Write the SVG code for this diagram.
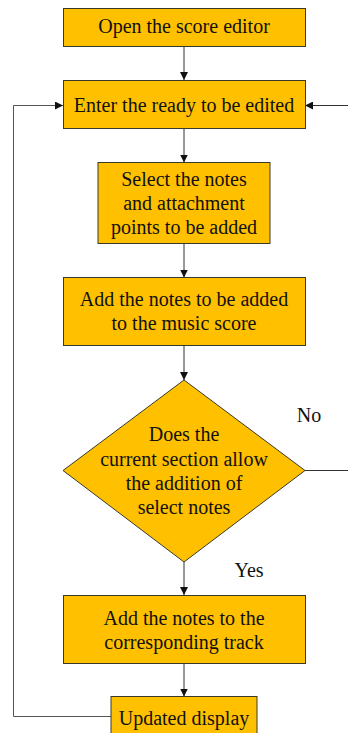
<svg xmlns="http://www.w3.org/2000/svg" width="348" height="733" viewBox="0 0 348 733">
  <style>
    .box { fill: #FFC000; stroke: #3a3a2a; stroke-width: 1; }
    .lbl { font-family: "Liberation Serif", "Times New Roman", serif; font-size: 20px; fill: #111; text-anchor: middle; }
    .edge { fill: none; stroke: #333; stroke-width: 1; }
    .loop { fill: none; stroke: #555; stroke-width: 1; }
  </style>
  <defs>
    <marker id="arrow" viewBox="0 0 10 10" refX="10" refY="5" markerWidth="8" markerHeight="8" markerUnits="userSpaceOnUse" orient="auto">
      <path d="M0,0 L10,5 L0,10 z" fill="#111"/>
    </marker>
  </defs>
  <rect width="348" height="733" fill="#fff"/>

  <g id="connectors">
    <line class="edge" x1="184" y1="46.5" x2="184" y2="80" marker-end="url(#arrow)"/>
    <line class="edge" x1="184" y1="128.5" x2="184" y2="162.5" marker-end="url(#arrow)"/>
    <line class="edge" x1="184" y1="243.5" x2="184" y2="277.5" marker-end="url(#arrow)"/>
    <line class="edge" x1="184" y1="345.5" x2="184" y2="380" marker-end="url(#arrow)"/>
    <line class="edge" x1="184" y1="562" x2="184" y2="595" marker-end="url(#arrow)"/>
    <line class="edge" x1="184" y1="663.5" x2="184" y2="696.5" marker-end="url(#arrow)"/>
    <polyline class="edge" points="305,470.5 348,470.5"/>
    <line class="edge" x1="348" y1="105.5" x2="305" y2="105.5" marker-end="url(#arrow)"/>
    <polyline class="loop" points="111,716.5 13.5,716.5 13.5,105.5 63,105.5" marker-end="url(#arrow)"/>
    <text class="lbl" x="309" y="422">No</text>
    <text class="lbl" x="249" y="577">Yes</text>
  </g>

  <g id="open-editor">
    <rect class="box" x="63.5" y="8.5" width="242" height="38"/>
    <text class="lbl" x="184" y="33">Open the score editor</text>
  </g>

  <g id="ready-to-edit">
    <rect class="box" x="63.5" y="80.5" width="242" height="48"/>
    <text class="lbl" x="184" y="112">Enter the ready to be edited</text>
  </g>

  <g id="select-notes">
    <rect class="box" x="98" y="162.5" width="172" height="81"/>
    <text class="lbl" x="184" y="186">Select the notes</text>
    <text class="lbl" x="184" y="210">and attachment</text>
    <text class="lbl" x="184" y="234">points to be added</text>
  </g>

  <g id="add-to-score">
    <rect class="box" x="63.5" y="277.5" width="242" height="68"/>
    <text class="lbl" x="184" y="306">Add the notes to be added</text>
    <text class="lbl" x="184" y="330">to the music score</text>
  </g>

  <g id="section-check">
    <polygon class="box" points="184,380 305,470.5 184,562 63,470.5"/>
    <text class="lbl" x="184" y="441">Does the</text>
    <text class="lbl" x="184" y="466">current section allow</text>
    <text class="lbl" x="184" y="490">the addition of</text>
    <text class="lbl" x="184" y="514">select notes</text>
  </g>

  <g id="add-to-track">
    <rect class="box" x="63.5" y="595.5" width="242" height="68"/>
    <text class="lbl" x="184" y="625">Add the notes to the</text>
    <text class="lbl" x="184" y="649">corresponding track</text>
  </g>

  <g id="update-display">
    <rect class="box" x="111" y="696.5" width="146" height="50"/>
    <text class="lbl" x="184" y="725">Updated display</text>
  </g>
</svg>
